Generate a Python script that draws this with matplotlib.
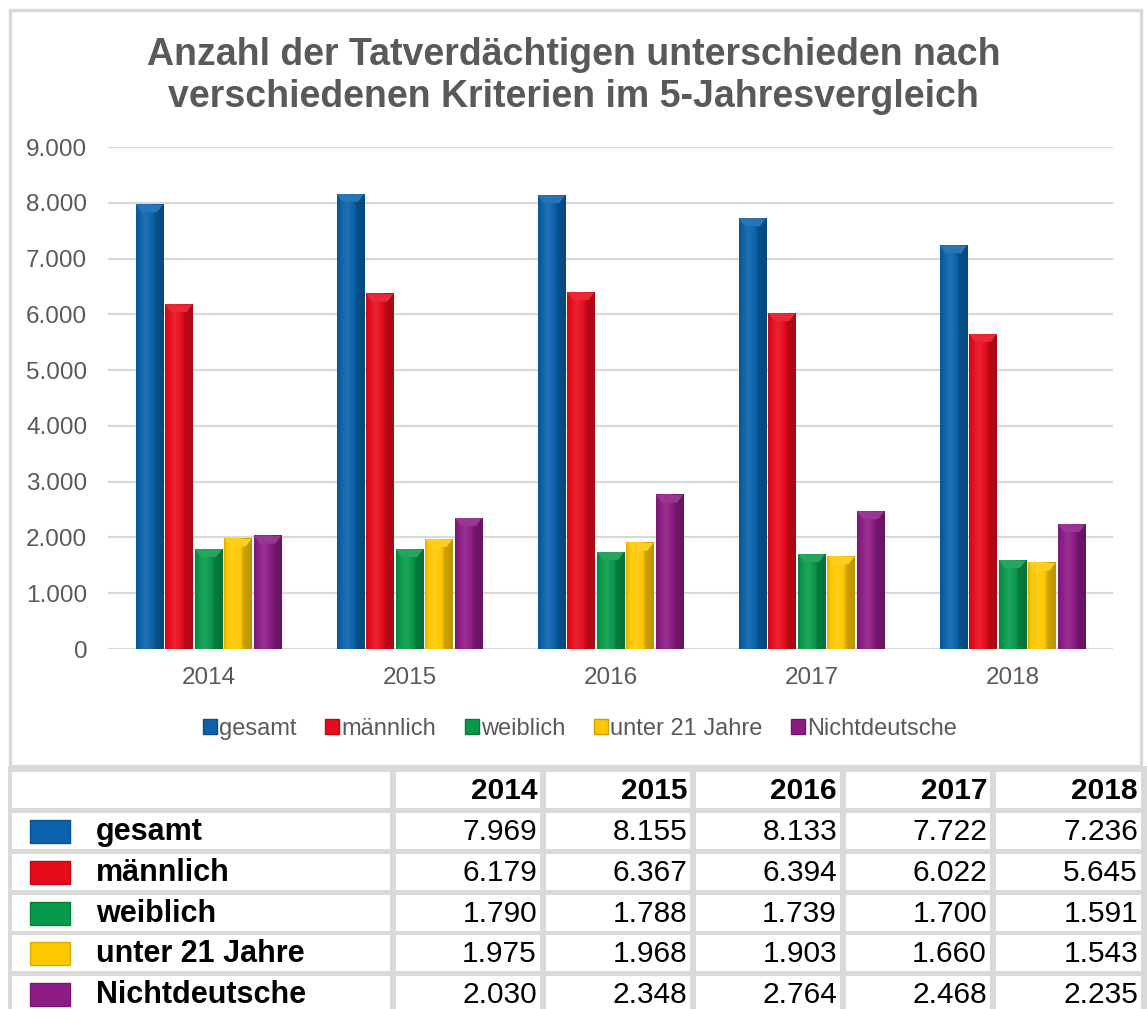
import numpy as np
import matplotlib.pyplot as plt
from matplotlib.patches import Rectangle, Polygon
from matplotlib.colors import to_rgb

# data
years = ['2014', '2015', '2016', '2017', '2018']
gesamt = [7969, 8155, 8133, 7722, 7236]
maennlich = [6179, 6367, 6394, 6022, 5645]
weiblich = [1790, 1788, 1739, 1700, 1591]
unter21 = [1975, 1968, 1903, 1660, 1543]
nichtdeutsche = [2030, 2348, 2764, 2468, 2235]
names = ['gesamt', 'männlich', 'weiblich', 'unter 21 Jahre', 'Nichtdeutsche']
series = [gesamt, maennlich, weiblich, unter21, nichtdeutsche]
colors = ['#0a62aa', '#e60c1c', '#07994a', '#ffc800', '#8c1c84']
title_lines = ['Anzahl der Tatverdächtigen unterschieden nach',
               'verschiedenen Kriterien im 5-Jahresvergleich']

W, H = 1147, 1009
GRAY = '#595959'
LINE = '#d9d9d9'
plt.rcParams['font.family'] = ['Liberation Sans', 'DejaVu Sans']

fig = plt.figure(figsize=(W / 100, H / 100), dpi=100)


def fmt(v):
    return f'{int(v):,}'.replace(',', '.')


def shade(c, f):
    r = np.array(to_rgb(c))
    if f >= 1:
        return r + (1 - r) * (f - 1)
    return r * f


# background layer in pixel coordinates (box + table)
bg = fig.add_axes([0, 0, 1, 1])
bg.set_xlim(0, W)
bg.set_ylim(H, 0)
bg.axis('off')
bg.add_patch(Rectangle((9.5, 9.5), 1131, 756, fill=False, ec=LINE, lw=2.4))

for i, line in enumerate(title_lines):
    bg.text(W / 2, 65 + 42 * i, line, ha='center', va='baseline',
            fontsize=27, fontweight='bold', color=GRAY)

# table
bg.add_patch(Rectangle((8, 766), W - 8, H - 766, fc=LINE, ec='none'))
col_edges = [(12, 390), (396, 540), (546, 690), (696, 840), (846, 990), (996, 1141)]
row_tops = [772, 813, 854, 895, 935, 976]
row_h = 36
for top in row_tops:
    for x0, x1 in col_edges:
        bg.add_patch(Rectangle((x0, top), x1 - x0, row_h, fc='white', ec='none'))

for j, y in enumerate(years):
    x1 = col_edges[j + 1][1]
    bg.text(x1 - 3, row_tops[0] + row_h / 2 + 1, y, ha='right', va='center',
            fontsize=21.5, fontweight='bold', color='black')

for i, (name, vals, c) in enumerate(zip(names, series, colors)):
    yc = row_tops[i + 1] + row_h / 2
    bg.add_patch(Rectangle((30, yc - 11.5), 40, 23, fc=c, ec=shade(c, 0.85), lw=1))
    bg.text(96, yc + 1, name, ha='left', va='center', fontsize=22,
            fontweight='bold', color='black')
    for j, v in enumerate(vals):
        x1 = col_edges[j + 1][1]
        bg.text(x1 - 3, yc + 1, fmt(v), ha='right', va='center',
                fontsize=21.5, color='black')

# chart
ax = fig.add_axes([108 / W, 1 - 649 / H, (1113 - 108) / W, (649 - 147) / H])
x = np.arange(len(years))
slot = 0.147
width = 0.135
profile_pos = [0.0, 0.12, 0.35, 0.6, 0.72, 1.0]
profile_f = [0.88, 1.0, 1.1, 1.0, 0.8, 0.74]
pp = np.linspace(0, 1, 40)
cap = 140

for k, (vals, c) in enumerate(zip(series, colors)):
    bars = ax.bar(x + (k - 2) * slot, vals, width, color=c, zorder=2)
    grad = np.array([shade(c, f) for f in np.interp(pp, profile_pos, profile_f)])
    grad = grad[np.newaxis, :, :]
    for b in bars:
        x0, w, h = b.get_x(), b.get_width(), b.get_height()
        ax.imshow(grad, extent=(x0, x0 + w, 0, h), aspect='auto',
                  interpolation='bilinear', zorder=3)
        ax.add_patch(Polygon([(x0, h), (x0 + w, h), (x0 + 0.78 * w, h - cap),
                              (x0 + 0.22 * w, h - cap)],
                             closed=True, fc=shade(c, 1.12), ec='none', zorder=4))

ax.set_xlim(-0.5, len(years) - 0.5)
ax.set_ylim(0, 9000)
ax.set_yticks(range(0, 9001, 1000))
ax.set_yticklabels([fmt(v) for v in range(0, 9001, 1000)])
ax.set_xticks(x)
ax.set_xticklabels(years)
ax.yaxis.grid(True, color=LINE, lw=1.6)
ax.set_axisbelow(True)
for s in ax.spines.values():
    s.set_visible(False)
ax.tick_params(axis='y', length=0, pad=15, labelsize=17.5, labelcolor=GRAY)
ax.tick_params(axis='x', length=0, pad=13, labelsize=17.5, labelcolor=GRAY)

handles = [Rectangle((0, 0), 1, 1, fc=c, ec=shade(c, 0.8)) for c in colors]
fig.legend(handles, names, loc='center', bbox_to_anchor=(580 / W, 1 - 729 / H),
           ncol=5, frameon=False, fontsize=17, handlelength=0.6, handleheight=0.6,
           handletextpad=0.1, columnspacing=1.2, labelcolor=GRAY)

fig.savefig('out.png', dpi=100)
